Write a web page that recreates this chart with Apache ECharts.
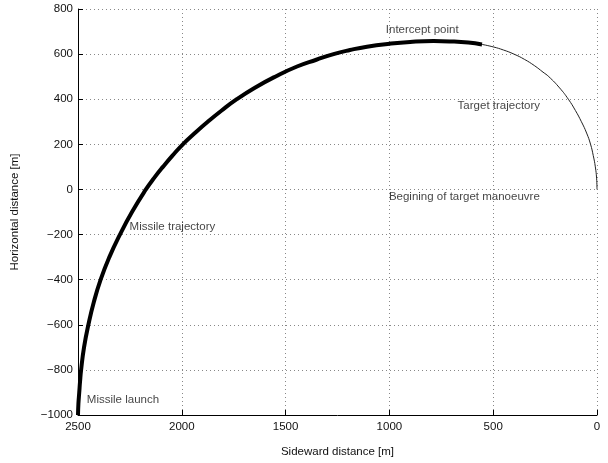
<!DOCTYPE html>
<html>
<head>
<meta charset="utf-8">
<script src="https://cdn.jsdelivr.net/npm/echarts@6/dist/echarts.min.js"></script>
<style>
html,body{margin:0;padding:0;background:#fff;}
#chart{width:608px;height:463px;}
</style>
</head>
<body>
<div id="chart"></div>
<script>
// Missile trajectory (sideward distance, horizontal distance) [m]
const missileX = [2500, 2498, 2494, 2490, 2485, 2471, 2450, 2424, 2391, 2349, 2298, 2240, 2173, 2134, 2091, 2045, 1995, 1937, 1875, 1808, 1735, 1650, 1550, 1445, 1352, 1269, 1190, 1108, 1000, 900, 787, 700, 620, 554];
const missileY = [-1000, -950, -900, -850, -800, -700, -600, -500, -400, -300, -200, -100, 0, 50, 100, 150, 200, 250, 300, 350, 400, 450, 500, 545, 575, 600, 618, 633, 646, 654, 658, 656, 651, 643];

// Target trajectory
const targetX = [0, 2, 8, 18, 31, 50, 75, 104, 138, 180, 232, 260, 300, 350, 400, 450, 500, 554];
const targetY = [0, 50, 100, 150, 200, 250, 300, 350, 400, 450, 500, 520, 548, 577, 600, 618, 632, 643];

// Annotations
const noteText = ['Intercept point', 'Target trajectory', 'Begining of target manoeuvre', 'Missile trajectory', 'Missile launch'];
const noteX = [1015, 669, 1000, 2249, 2455];
const noteY = [706, 368, -34, -167, -935];

// Axes
const xMin = 0, xMax = 2500, xStep = 500;
const yMin = -1000, yMax = 800, yStep = 200;
const xTitle = 'Sideward distance [m]';
const yTitle = 'Horizontal distance [m]';

const FONT = '"Liberation Sans", Arial, Helvetica, sans-serif';
const FS = 11.5;
const chart = echarts.init(document.getElementById('chart'), null, {renderer: 'canvas'});

const pairs = (xs, ys) => xs.map((x, i) => [x, ys[i]]);

chart.setOption({
  animation: false,
  backgroundColor: '#fff',
  grid: {left: 78, right: 11, top: 9, bottom: 45, containLabel: false},
  xAxis: {
    type: 'value', inverse: true, min: xMin, max: xMax, interval: xStep,
    name: xTitle, nameLocation: 'middle', nameGap: 31,
    nameTextStyle: {fontFamily: FONT, fontSize: FS, color: '#111'},
    axisLine: {show: true, onZero: false, lineStyle: {color: '#000', width: 1}},
    axisTick: {show: true, inside: true, length: 5, lineStyle: {color: '#000'}},
    axisLabel: {fontFamily: FONT, fontSize: FS, color: '#111', margin: 6,
      formatter: v => String(v)},
    splitLine: {show: true, lineStyle: {color: '#888', width: 1, type: [1, 3]}}
  },
  yAxis: {
    type: 'value', min: yMin, max: yMax, interval: yStep,
    name: yTitle, nameLocation: 'middle', nameGap: 57,
    nameTextStyle: {fontFamily: FONT, fontSize: FS, color: '#111'},
    axisLine: {show: true, onZero: false, lineStyle: {color: '#000', width: 1}},
    axisTick: {show: true, inside: true, length: 5, lineStyle: {color: '#000'}},
    axisLabel: {fontFamily: FONT, fontSize: FS, color: '#111', margin: 5,
      formatter: v => String(v).replace('-', '\u2212')},
    splitLine: {show: true, lineStyle: {color: '#888', width: 1, type: [1, 3]}}
  },
  series: [
    {
      name: 'Target trajectory', type: 'line', data: pairs(targetX, targetY),
      showSymbol: false, smooth: 0.5, lineStyle: {color: '#222', width: 1}, z: 3
    },
    {
      name: 'Missile trajectory', type: 'line', data: pairs(missileX, missileY),
      showSymbol: false, smooth: 0.5, lineStyle: {color: '#000', width: 4}, z: 4
    },
    {
      name: 'notes', type: 'scatter', symbolSize: 1,
      itemStyle: {color: 'rgba(0,0,0,0)'},
      data: noteText.map((t, i) => ({value: [noteX[i], noteY[i]], name: t})),
      label: {show: true, position: [0, 0], align: 'left', verticalAlign: 'middle',
        formatter: p => p.name, fontFamily: FONT, fontSize: FS, color: '#111'},
      z: 5
    }
  ]
});
</script>
</body>
</html>
